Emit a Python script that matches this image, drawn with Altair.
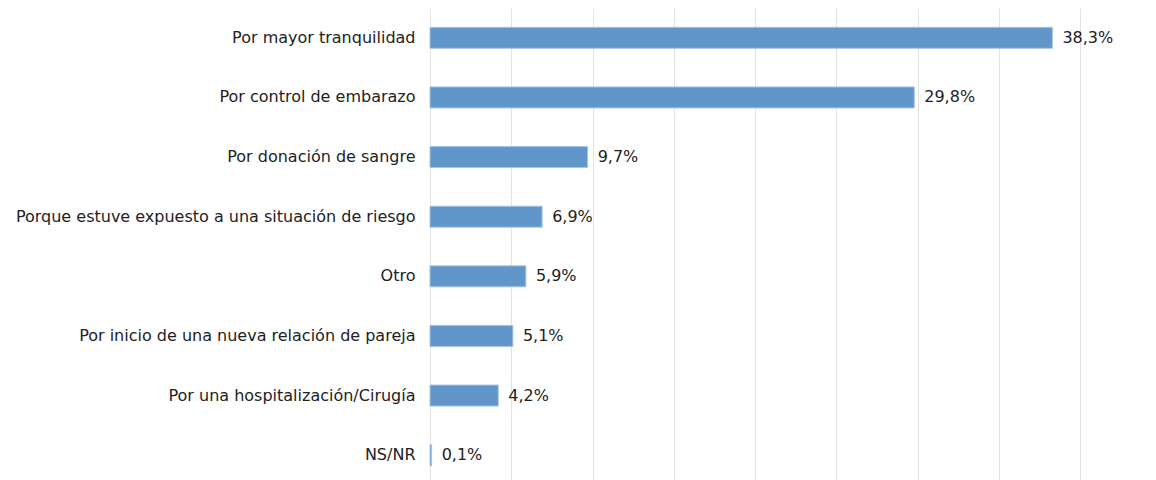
import altair as alt
import pandas as pd

categories = [
    "Por mayor tranquilidad",
    "Por control de embarazo",
    "Por donación de sangre",
    "Porque estuve expuesto a una situación de riesgo",
    "Otro",
    "Por inicio de una nueva relación de pareja",
    "Por una hospitalización/Cirugía",
    "NS/NR",
]
values = [38.3, 29.8, 9.7, 6.9, 5.9, 5.1, 4.2, 0.1]
labels = ["38,3%", "29,8%", "9,7%", "6,9%", "5,9%", "5,1%", "4,2%", "0,1%"]

df = pd.DataFrame({"cat": categories, "val": values, "lab": labels})

FONT = "DejaVu Sans"

y_enc = alt.Y(
    "cat:N",
    sort=categories,
    title=None,
    scale=alt.Scale(paddingInner=0, paddingOuter=0),
    axis=alt.Axis(
        domain=False,
        ticks=False,
        grid=False,
        labelFont=FONT,
        labelFontSize=16,
        labelColor="#222222",
        labelPadding=15,
        minExtent=422,
        maxExtent=422,
        labelLimit=0,
    ),
)

x_enc = alt.X(
    "val:Q",
    title=None,
    scale=alt.Scale(domain=[0, 40], nice=False),
    axis=alt.Axis(
        values=[0, 5, 10, 15, 20, 25, 30, 35, 40],
        labels=False,
        ticks=False,
        domain=False,
        grid=True,
        gridColor="#e3e3e3",
        gridWidth=1,
    ),
)

bars = alt.Chart(df).mark_bar(
    size=21, color="#6096c9", stroke="#a8c4e4", strokeWidth=1
).encode(y=y_enc, x=x_enc)

text = alt.Chart(df).mark_text(
    align="left", baseline="middle", dx=10, font=FONT, fontSize=16, color="#222222"
).encode(y=alt.Y("cat:N", sort=categories), x=alt.X("val:Q"), text="lab:N")

chart = (
    alt.layer(bars, text)
    .properties(width=650, height=477, padding={"left": 0, "top": 0, "right": 5, "bottom": 0})
    .configure_view(stroke=None)
)

chart.save("out.html", embed_options={"renderer": "svg", "actions": False})
